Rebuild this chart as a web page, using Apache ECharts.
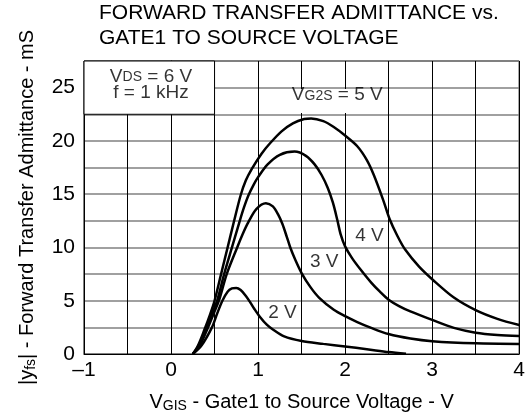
<!DOCTYPE html>
<html><head><meta charset="utf-8">
<script src="https://cdn.jsdelivr.net/npm/echarts@6/dist/echarts.min.js"></script>
<style>html,body{margin:0;padding:0;background:#fff}#c{width:528px;height:420px}</style>
</head><body><div id="c"></div>
<script>
// ---- data ----
const xTickValues = [-1, 0, 1, 2, 3, 4];
const xTickLabels = ['–1', '0', '1', '2', '3', '4'];
const yTickValues = [0, 5, 10, 15, 20, 25];
const yTickLabels = ['0', '5', '10', '15', '20', '25'];

const vg2s5V = [[0.25,0],[0.31,0.8],[0.38,2.2],[0.45,3.75],[0.5,5],[0.575,7.5],[0.65,10],[0.725,12.5],[0.8,14.9],[0.86,16.3],[0.93,17.4],[1.04,18.8],[1.14,19.8],[1.27,20.9],[1.4,21.65],[1.53,22.05],[1.61,22.1],[1.75,21.85],[1.87,21.3],[2.0,20.5],[2.14,19.5],[2.25,18.2],[2.33,16.8],[2.44,14.4],[2.51,12.7],[2.6,11.1],[2.69,9.8],[2.85,8.2],[3.01,6.95],[3.25,5.3],[3.5,4.12],[3.75,3.3],[4.0,2.72]];
const vg2s4V = [[0.25,0],[0.32,0.8],[0.4,2.4],[0.47,3.8],[0.53,5],[0.61,7.5],[0.7,10],[0.79,12.5],[0.84,13.8],[0.89,14.9],[0.95,15.9],[1.0,16.6],[1.11,17.8],[1.25,18.7],[1.42,19.0],[1.55,18.6],[1.65,17.8],[1.73,16.8],[1.8,15.6],[1.86,14.2],[1.91,12.6],[1.95,11.2],[2.0,10.1],[2.08,9.0],[2.18,7.9],[2.3,6.7],[2.4,5.85],[2.5,5.1],[2.62,4.5],[2.75,4.0],[3.0,3.2],[3.25,2.45],[3.5,2.0],[3.75,1.78],[4.0,1.68]];
const vg2s3V = [[0.25,0],[0.33,0.8],[0.42,2.4],[0.49,3.8],[0.55,5],[0.64,7.5],[0.76,10],[0.82,11.2],[0.89,12.4],[0.98,13.6],[1.09,14.15],[1.17,13.85],[1.23,13.1],[1.28,12.2],[1.33,11.0],[1.37,10.0],[1.43,8.8],[1.5,7.6],[1.6,6.3],[1.7,5.3],[1.87,4.15],[2.0,3.55],[2.14,3.0],[2.3,2.45],[2.5,1.87],[2.75,1.45],[3.0,1.2],[3.5,1.0],[4.0,0.94]];
const vg2s2V = [[0.25,0],[0.35,0.8],[0.47,2.5],[0.53,3.8],[0.59,5],[0.65,5.85],[0.7,6.15],[0.75,6.2],[0.8,6.0],[0.86,5.45],[0.91,4.85],[0.96,4.2],[1.02,3.5],[1.1,2.75],[1.17,2.3],[1.3,1.65],[1.5,1.22],[1.75,0.95],[2.0,0.7],[2.25,0.45],[2.5,0.18],[2.7,0.02]];

const curveNames = ['VG2S = 5 V', 'VG2S = 4 V', 'VG2S = 3 V', 'VG2S = 2 V'];
const curveData = [vg2s5V, vg2s4V, vg2s3V, vg2s2V];

// annotation texts and their anchor points in data units
const noteTexts = [
  '{v|V}{s|G2S}{v| = 5 V}',
  '{v|4 V}',
  '{v|3 V}',
  '{v|2 V}',
  '{v|V}{s|DS}{v| = 6 V}\n{v|f = 1 kHz}'
];
const notePoints = [[1.91, 24.3], [2.28, 11.09], [1.76, 8.70], [1.28, 3.89], [-0.23, 25.3]];
// white boxes (data units)
const conditionBox = [[-1, 22.5], [0.5, 27.5]];
const g2sLabelBox = [[1.33, 22.62], [2.46, 24.88]];

const FONT = '"Liberation Sans", Arial, Helvetica, sans-serif';
const chart = echarts.init(document.getElementById('c'), null, {renderer: 'canvas'});

const richStyles = {
  v: {fontSize: 19, fontFamily: FONT, color: '#000', lineHeight: 16},
  s: {fontSize: 14, fontFamily: FONT, color: '#000', lineHeight: 12, verticalAlign: 'bottom'}
};

const series = curveData.map((d, i) => ({
  name: curveNames[i],
  type: 'line',
  data: d,
  smooth: 0.3,
  showSymbol: false,
  symbol: 'none',
  lineStyle: {color: '#000', width: 2.5},
  z: 3,
  silent: true
}));

series.push({
  name: 'boxes',
  type: 'line',
  data: [],
  z: 1,
  silent: true,
  markArea: {
    silent: true,
    data: [
      [{coord: conditionBox[0], itemStyle: {color: '#fff', borderColor: '#000', borderWidth: 1}}, {coord: conditionBox[1]}],
      [{coord: g2sLabelBox[0], itemStyle: {color: '#fff', borderWidth: 0}}, {coord: g2sLabelBox[1]}]
    ]
  }
});

series.push({
  name: 'notes',
  type: 'scatter',
  symbolSize: 0,
  z: 6,
  silent: true,
  data: notePoints.map((p, i) => ({value: p, name: noteTexts[i]})),
  label: {
    show: true,
    position: [0, 0],
    align: 'center',
    verticalAlign: 'middle',
    formatter: p => p.name,
    rich: richStyles
  }
});

chart.setOption({
  animation: false,
  backgroundColor: '#fff',
  title: {
    text: 'FORWARD TRANSFER ADMITTANCE vs.\nGATE1 TO SOURCE VOLTAGE',
    left: 99,
    top: 1,
    padding: 0,
    textStyle: {fontFamily: FONT, fontSize: 21, fontWeight: 'normal', color: '#000', lineHeight: 24.5}
  },
  grid: {left: 84, right: 4, top: 61, bottom: 66, show: true, borderColor: '#000', borderWidth: 1, backgroundColor: 'transparent'},
  xAxis: {
    type: 'value',
    min: -1, max: 4, interval: 0.5,
    axisLine: {show: true, onZero: false, lineStyle: {color: '#000', width: 1}},
    axisTick: {show: false},
    splitLine: {show: true, lineStyle: {color: '#000', width: 1}},
    axisLabel: {
      margin: 6,
      fontFamily: FONT, fontSize: 21, color: '#000',
      formatter: v => { const k = xTickValues.indexOf(v); return k >= 0 ? xTickLabels[k] : ''; }
    },
    name: '{v|V}{s|GIS}{v| - Gate1 to Source Voltage - V}',
    nameLocation: 'middle',
    nameGap: 37,
    nameTextStyle: {
      rich: {
        v: {fontSize: 20, fontFamily: FONT, color: '#000', lineHeight: 22},
        s: {fontSize: 14, fontFamily: FONT, color: '#000', lineHeight: 16, verticalAlign: 'bottom'}
      }
    }
  },
  yAxis: {
    type: 'value',
    min: 0, max: 27.5, interval: 2.5,
    axisLine: {show: true, lineStyle: {color: '#000', width: 1}},
    axisTick: {show: false},
    splitLine: {show: true, lineStyle: {color: '#808080', width: 1.5}},
    axisLabel: {
      margin: 9,
      fontFamily: FONT, fontSize: 21, color: '#000',
      formatter: v => { const k = yTickValues.indexOf(v); return k >= 0 ? yTickLabels[k] : ''; }
    },
    name: '{v||y}{s|fs}{v|| - Forward Transfer Admittance - mS}',
    nameLocation: 'middle',
    nameRotate: 90,
    nameGap: 46,
    nameTextStyle: {
      rich: {
        v: {fontSize: 20, fontFamily: FONT, color: '#000', lineHeight: 22},
        s: {fontSize: 14, fontFamily: FONT, color: '#000', lineHeight: 12, verticalAlign: 'bottom'}
      }
    }
  },
  series: series
});
</script>
</body></html>
